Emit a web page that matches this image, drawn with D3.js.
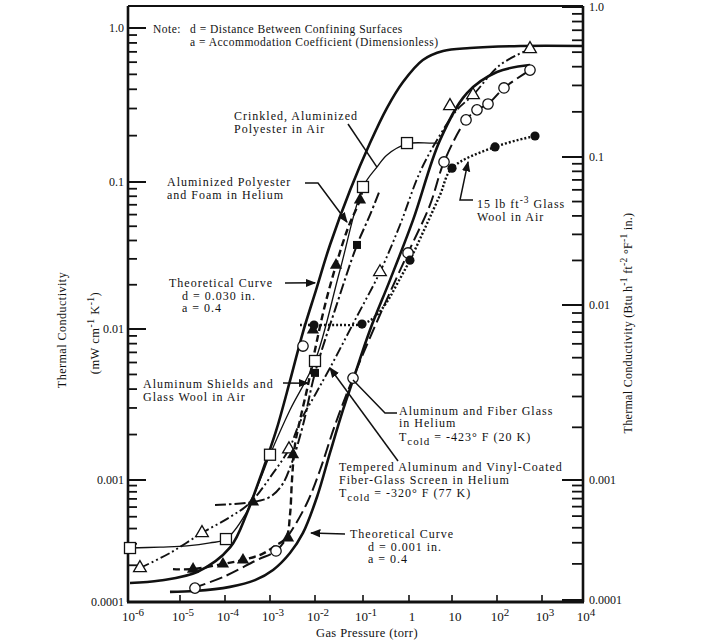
<!DOCTYPE html>
<html><head><meta charset="utf-8">
<script src="https://cdn.jsdelivr.net/npm/d3@7"></script>
<style>
body{margin:0;background:#fff}
text{font-family:"Liberation Serif","DejaVu Serif",serif;fill:#111}
</style></head>
<body>
<svg id="c" width="719" height="642"></svg>
<script>
// ---------------- DATA ----------------
// x: gas pressure (torr); y: thermal conductivity (mW cm^-1 K^-1)
const xTickVals = [1e-6,1e-5,1e-4,1e-3,1e-2,1e-1,1,10,100,1e3,1e4];
const xTickLabels = [["10","-6"],["10","-5"],["10","-4"],["10","-3"],["10","-2"],["10","-1"],["1",""],["10",""],["10","2"],["10","3"],["10","4"]];
const yLeftTicks = [1e-4,1e-3,1e-2,1e-1,1];
const yLeftLabels = ["0.0001","0.001","0.01","0.1","1.0"];
const yRightTicks = [1e-4,1e-3,1e-2,1e-1,1];
const yRightLabels = ["0.0001","0.001","0.01","0.1","1.0"];

// Theoretical curve d = 0.030 in., a = 0.4
const theo030P = [1e-6,4e-6,2.4e-5,1.3e-4,3.1e-4,5.1e-4,8.6e-4,1.43e-3,2.78e-3,5.41e-3,1.05e-2,2.05e-2,5.4e-2,0.142,0.333,0.74,2.1,6.2,25,330,1e4];
const theo030K = [1.43e-4,1.5e-4,1.76e-4,2.8e-4,5.4e-4,8.8e-4,1.4e-3,2.21e-3,4.53e-3,9.55e-3,1.84e-2,3.73e-2,8.82e-2,0.179,0.303,0.446,0.62,0.709,0.741,0.764,0.764];

// Theoretical curve d = 0.001 in., a = 0.4
const theo001P = [6.3e-6,2.15e-5,1.29e-4,4.64e-4,1.17e-3,2.78e-3,5.41e-3,1.1e-2,2.05e-2,3.83e-2,6.19e-2,0.142,0.386,1.24,5.26,21.5,100,541];
const theo001K = [1.21e-4,1.23e-4,1.33e-4,1.51e-4,1.83e-4,2.52e-4,3.68e-4,7.26e-4,1.51e-3,2.91e-3,4.59e-3,9.85e-3,2.15e-2,5.5e-2,0.187,0.378,0.518,0.575];

// Crinkled, aluminized polyester in air (open squares, thin line)
const crinkP = [1e-6,4e-6,1.43e-5,4.64e-5,1.05e-4,2.78e-4,6.0e-4,1e-3,2.78e-3,1e-2,3.32e-2,0.1,0.201,0.333,0.905,3.08,5.26];
const crinkK = [2.77e-4,2.82e-4,2.88e-4,3.05e-4,3.28e-4,5.17e-4,1e-3,1.47e-3,2.91e-3,6.14e-3,2.52e-2,9.25e-2,0.125,0.15,0.177,0.179,0.179];
const crinkPtP = [1e-6,1.05e-4,1e-3,1e-2,0.1,0.905];
const crinkPtK = [2.77e-4,3.28e-4,1.47e-3,6.14e-3,9.25e-2,0.179];

// Open triangles, dash-dot-dot line
const triOP = [1.58e-6,6.3e-6,3.08e-5,1.29e-4,3.59e-4,1.17e-3,2.64e-3,4.64e-3,1e-2,2.05e-2,6.8e-2,0.234,0.637,1.8,5.26,12.9,29.3,117,541];
const triOK = [1.9e-4,2.52e-4,3.68e-4,4.97e-4,6.48e-4,1.11e-3,1.6e-3,2.42e-3,3.66e-3,5.52e-3,1.15e-2,2.44e-2,5.1e-2,0.116,0.202,0.294,0.367,0.575,0.731];
const triOPtP = [1.58e-6,3.08e-5,2.64e-3,0.234,8.98,29.3,541];
const triOPtK = [1.9e-4,3.68e-4,1.6e-3,2.44e-2,0.312,0.367,0.731];

// Filled triangles, dashed line
const triFP = [7.24e-6,1.95e-5,9.0e-5,2.51e-4,6.64e-4,1.29e-3,2.27e-3,2.78e-3,3.08e-3,3.59e-3,4.64e-3,6.99e-3,1.05e-2,1.62e-2,2.74e-2,4.87e-2,8.66e-2,9.5e-2];
const triFK = [1.86e-4,1.86e-4,2.05e-4,2.21e-4,2.47e-4,2.88e-4,3.35e-4,5.17e-4,1e-3,1.71e-3,2.49e-3,4.26e-3,7.83e-3,1.46e-2,2.72e-2,4.87e-2,7.55e-2,8.55e-2];
const triFPtP = [1.95e-5,9.0e-5,2.51e-4,2.51e-3,3.25e-3,9.0e-3,2.74e-2,8.66e-2];
const triFPtK = [1.86e-4,2.05e-4,2.21e-4,3.35e-4,1.47e-3,9.85e-3,2.72e-2,7.55e-2];

// Filled squares, dash-dot line
const sqFP = [6.0e-5,4.19e-4,1e-3,1.85e-3,3.08e-3,5.41e-3,1e-2,2.61e-2,7.5e-2,0.142,0.234];
const sqFK = [6.24e-4,6.6e-4,7.26e-4,9.1e-4,1.31e-3,2.31e-3,5.12e-3,1.35e-2,3.73e-2,5.97e-2,8.82e-2];
const sqFPtP = [1e-2,7.5e-2];
const sqFPtK = [5.12e-3,3.73e-2];
const sqFTriP = [4.19e-4];
const sqFTriK = [6.6e-4];

// Aluminum and fiber glass in helium (open circles, long dashes)
const circP = [1.95e-5,9.0e-5,5.14e-4,1.36e-3,2.78e-3,6.64e-3,1.27e-2,2.61e-2,6.19e-2,0.234,0.951,3.08,6.52,20.5,35.9,63.1,143,541];
const circK = [1.3e-4,1.6e-4,2.21e-4,2.62e-4,3.68e-4,6.48e-4,1.16e-3,2.31e-3,4.73e-3,1.25e-2,3.29e-2,6.98e-2,0.135,0.253,0.294,0.321,0.408,0.533];
const circPtP = [2.15e-5,1.36e-3,5.41e-3,6.19e-2,0.951,6.52,20.5,35.9,63.1,143,541];
const circPtK = [1.3e-4,2.62e-4,7.71e-3,4.73e-3,3.29e-2,0.135,0.253,0.294,0.321,0.408,0.533];

// 15 lb ft^-3 glass wool in air (filled circles, dotted)
const woolP = [4.64e-3,9.5e-3,3.32e-2,9.53e-2,0.182,0.333,0.548,1.05,2.36,5.26,10,90.3,699];
const woolK = [1.065e-2,1.065e-2,1.065e-2,1.08e-2,1.21e-2,1.53e-2,2.02e-2,2.94e-2,4.87e-2,8.16e-2,0.123,0.169,0.199];
const woolPtP = [9.5e-3,9.53e-2,1.05,10,90.3,699];
const woolPtK = [1.065e-2,1.08e-2,2.94e-2,0.123,0.169,0.199];

// ---------------- SCALES ----------------
const svg = d3.select("#c");
const x = d3.scaleLog().domain(xTickVals).range([130,180,225,270,315,363,409,452,497,542,583]);
const y = d3.scaleLog().domain(yLeftTicks).range([602,480,329,182,28]);
const yR = d3.scaleLog().domain(yRightTicks).range([600,480,305,157,7]);

const X0 = 128, X1 = 583, Y0 = 6, Y1 = 602;

svg.append("defs").append("marker").attr("id","arr").attr("viewBox","0 0 10 10")
  .attr("refX",9).attr("refY",5).attr("markerWidth",7).attr("markerHeight",7)
  .attr("orient","auto-start-reverse").append("path").attr("d","M0,1 L10,5 L0,9 z").attr("fill","#111");

// ---------------- AXES ----------------
const ax = svg.append("g").attr("stroke","#111").attr("fill","none");
ax.append("line").attr("x1",X0).attr("x2",X0).attr("y1",Y0).attr("y2",Y1).attr("stroke-width",2.6);
ax.append("line").attr("x1",X1).attr("x2",X1).attr("y1",Y0).attr("y2",Y1).attr("stroke-width",2.6);
ax.append("line").attr("x1",X0).attr("x2",X1).attr("y1",Y0).attr("y2",Y0).attr("stroke-width",2);
ax.append("line").attr("x1",X0-1).attr("x2",X1+1).attr("y1",Y1).attr("y2",Y1).attr("stroke-width",2.8);

function minors(decs){const a=[];decs.forEach(d=>{for(let m=2;m<=9;m++)a.push(m*d);});return a;}
const minorVals = minors([1e-4,1e-3,1e-2,1e-1]);

yLeftTicks.forEach(v=>ax.append("line").attr("x1",X0).attr("x2",X0+18).attr("y1",y(v)).attr("y2",y(v)).attr("stroke-width",2));
minorVals.forEach(v=>ax.append("line").attr("x1",X0).attr("x2",X0+9).attr("y1",y(v)).attr("y2",y(v)).attr("stroke-width",1.8));
yRightTicks.forEach(v=>ax.append("line").attr("x1",X1-21).attr("x2",X1).attr("y1",yR(v)).attr("y2",yR(v)).attr("stroke-width",2));
minorVals.forEach(v=>ax.append("line").attr("x1",X1-11).attr("x2",X1).attr("y1",yR(v)).attr("y2",yR(v)).attr("stroke-width",1.8));
xTickVals.slice(1,-1).forEach(v=>ax.append("line").attr("x1",x(v)).attr("x2",x(v)).attr("y1",Y1).attr("y2",Y1-7).attr("stroke-width",1.6));

const tl = svg.append("g").attr("font-size",12);
yLeftTicks.forEach((v,i)=>tl.append("text").attr("x",124).attr("y",y(v)+4).attr("text-anchor","end").text(yLeftLabels[i]));
yRightTicks.forEach((v,i)=>tl.append("text").attr("x",589).attr("y",yR(v)+4).text(yRightLabels[i]));
xTickVals.forEach((v,i)=>{
  const t = tl.append("text").attr("x",x(v)+3).attr("y",621).attr("text-anchor","middle").attr("font-size",13);
  t.append("tspan").text(xTickLabels[i][0]);
  if(xTickLabels[i][1]) t.append("tspan").attr("dy",-5).attr("font-size",11).text(xTickLabels[i][1]);
});

svg.append("text").attr("x",367).attr("y",637).attr("text-anchor","middle").attr("font-size",12.5).attr("letter-spacing",0.4).text("Gas Pressure (torr)");
svg.append("text").attr("transform","translate(66,330) rotate(-90)").attr("text-anchor","middle").attr("font-size",12).attr("letter-spacing",0.5).text("Thermal Conductivity");
function rich(g, parts, attrs){
  const t = g.append("text");
  Object.entries(attrs).forEach(([k,v])=>t.attr(k,v));
  let shift=0;
  parts.forEach(p=>{
    const s=t.append("tspan").text(p[0]);
    const target = p[1]==="sup"?-5:(p[1]==="sub"?4:0);
    if(target!==shift){s.attr("dy",target-shift);shift=target;}
    if(p[1]) s.attr("font-size",p[1]==="sup"?9.5:11);
  });
  return t;
}
rich(svg,[["(mW cm"],["-1","sup"],[" K"],["-1","sup"],[")"]],{transform:"translate(99,333) rotate(-90)","text-anchor":"middle","font-size":12.5,"letter-spacing":0.5});
rich(svg,[["Thermal Conductivity (Btu h"],["-1","sup"],[" ft"],["-2","sup"],[" °F"],["-1","sup"],[" in.)"]],{transform:"translate(632,323) rotate(-90)","text-anchor":"middle","font-size":12,"letter-spacing":0.3});

// ---------------- CURVES ----------------
const line = d3.line().x(d=>x(d[0])).y(d=>y(d[1])).curve(d3.curveCatmullRom.alpha(0.5));
const cg = svg.append("g").attr("fill","none").attr("stroke","#111").attr("stroke-linecap","butt");
function curve(P,K,w,dash){
  const p = cg.append("path").attr("d",line(d3.zip(P,K))).attr("stroke-width",w);
  if(dash) p.attr("stroke-dasharray",dash);
}
curve(theo030P,theo030K,2.6,null);
curve(theo001P,theo001K,2.6,null);
curve(crinkP,crinkK,1.3,null);
curve(triOP,triOK,1.9,"10,3,2,3,2,3");
curve(triFP,triFK,2.4,"7,4");
curve(sqFP,sqFK,2,"11,3,2.5,3");
curve(circP,circK,2,"13,5");
curve(woolP,woolK,2.4,"2,2");

// ---------------- MARKERS ----------------
const mg = svg.append("g");
function pts(P,K,kind){
  d3.zip(P,K).forEach(([p,k])=>{
    const cx=x(p), cy=y(k);
    if(kind==="sqO") mg.append("rect").attr("x",cx-5.5).attr("y",cy-5.5).attr("width",11).attr("height",11).attr("fill","#fff").attr("stroke","#111").attr("stroke-width",1.3);
    if(kind==="sqF") mg.append("rect").attr("x",cx-4).attr("y",cy-4).attr("width",8).attr("height",8).attr("fill","#111");
    if(kind==="triO") mg.append("path").attr("transform",`translate(${cx},${cy})`).attr("d",d3.symbol(d3.symbolTriangle,70)()).attr("fill","#fff").attr("stroke","#111").attr("stroke-width",1.3);
    if(kind==="triF") mg.append("path").attr("transform",`translate(${cx},${cy})`).attr("d",d3.symbol(d3.symbolTriangle,65)()).attr("fill","#111");
    if(kind==="cO") mg.append("circle").attr("cx",cx).attr("cy",cy).attr("r",5.2).attr("fill","#fff").attr("stroke","#111").attr("stroke-width",1.3);
    if(kind==="cF") mg.append("circle").attr("cx",cx).attr("cy",cy).attr("r",4.6).attr("fill","#111");
  });
}
pts(crinkPtP,crinkPtK,"sqO");
pts(triOPtP,triOPtK,"triO");
pts(triFPtP,triFPtK,"triF");
pts(sqFPtP,sqFPtK,"sqF");
pts(sqFTriP,sqFTriK,"triF");
pts(circPtP,circPtK,"cO");
pts(woolPtP,woolPtK,"cF");

// ---------------- ANNOTATIONS ----------------
const ag = svg.append("g").attr("font-size",12).attr("letter-spacing",1.0);
function txt(s,xx,yy){return ag.append("text").attr("x",xx).attr("y",yy).text(s);}
function lead(pts,arrow){
  const p = ag.append("path").attr("d",d3.line()(pts)).attr("fill","none").attr("stroke","#111").attr("stroke-width",1.5);
  if(arrow) p.attr("marker-end","url(#arr)");
}
const ng = svg.append("g").attr("font-size",11.5).attr("letter-spacing",0.5);
ng.append("text").attr("x",153).attr("y",33).text("Note:");
ng.append("text").attr("x",190).attr("y",33).text("d = Distance Between Confining Surfaces");
ng.append("text").attr("x",190).attr("y",46).text("a = Accommodation Coefficient (Dimensionless)");

txt("Crinkled, Aluminized",234,120); txt("Polyester in Air",234,132.5);
lead([[348,124],[x(0.201),y(0.125)]],false);
txt("Aluminized Polyester",167,186); txt("and Foam in Helium",167,198.5);
lead([[305,183],[318,183],[x(4.64e-2),y(5.34e-2)]],true);
txt("Theoretical Curve",169,287); txt("d = 0.030 in.",182,299.5); txt("a = 0.4",182,312);
lead([[285,283],[x(1.0e-2),y(2.06e-2)]],true);
txt("Aluminum Shields and",143,388); txt("Glass Wool in Air",143,400.5);
lead([[283,383],[x(6.99e-3),y(4.38e-3)]],true);
txt("Aluminum and Fiber Glass",399,414.5); txt("in Helium",399,427);
rich(ag,[["T"],["cold","sub"],[" = -423° F (20 K)"]],{x:399,y:440.5});
lead([[397,413],[385,413],[x(6.19e-2),y(4.59e-3)]],false);
txt("Tempered Aluminum and Vinyl-Coated",339,471); txt("Fiber-Glass Screen in Helium",339,483.5);
rich(ag,[["T"],["cold","sub"],[" = -320° F (77 K)"]],{x:339,y:496.5});
lead([[398,461],[x(2.05e-2),y(5.52e-3)]],true);
txt("Theoretical Curve",350,538); txt("d = 0.001 in.",368,550.5); txt("a = 0.4",368,563);
lead([[345,534],[x(6.99e-3)+3,y(3.68e-4)]],true);
rich(ag,[["15 lb ft"],["-3","sup"],[" Glass"]],{x:477,y:208});
txt("Wool in Air",477,221);
lead([[473,200],[460,200],[x(22.7),y(0.135)]],true);
</script>
</body></html>
